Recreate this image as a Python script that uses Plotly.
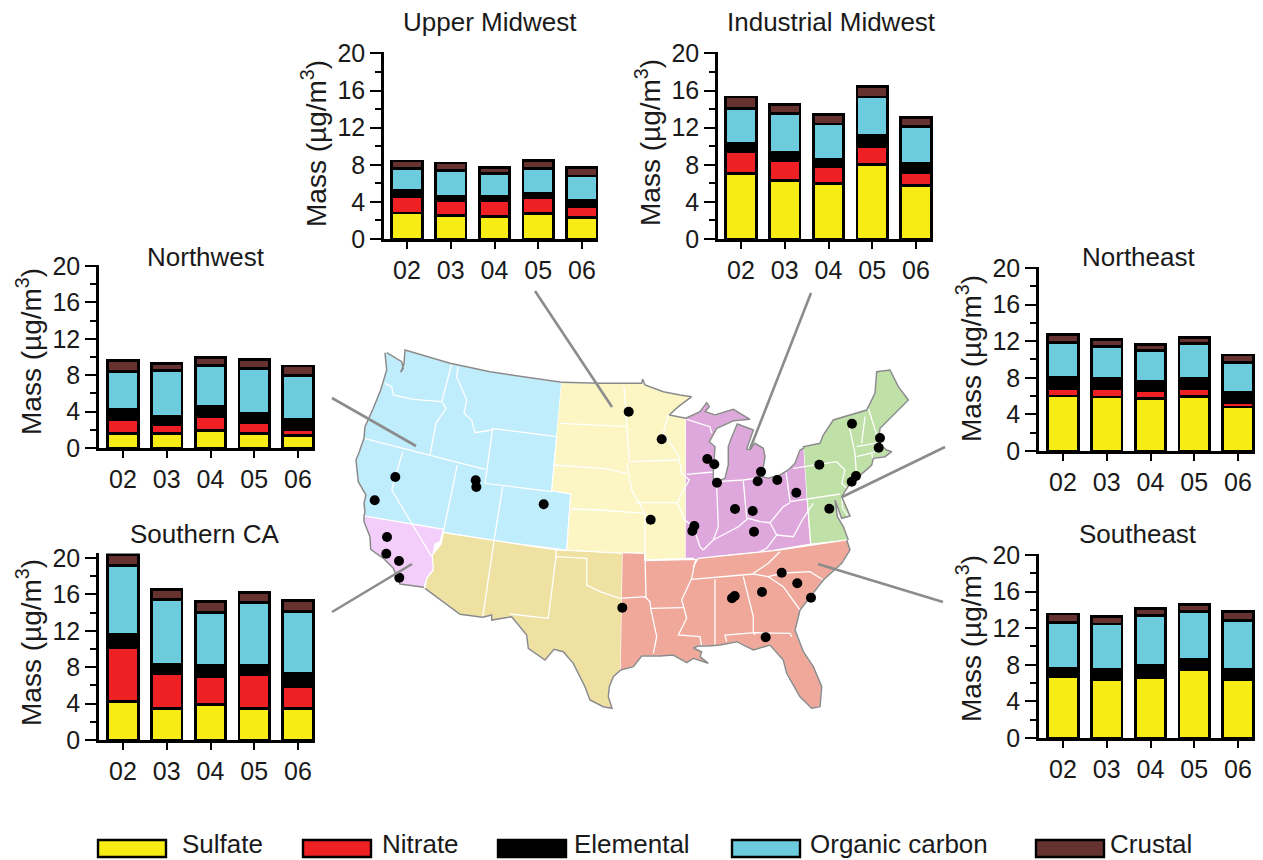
import plotly.graph_objects as go

W, H = 1263, 860
YEARS = ["02", "03", "04", "05", "06"]
COMPONENTS = ["Sulfate", "Nitrate", "Elemental", "Organic carbon", "Crustal"]
COLORS = ["#F7EC13", "#EE2024", "#000000", "#6CCCDE", "#65322F"]

UPPER_MIDWEST = [
    [2.8, 2.55, 2.4, 2.75, 2.3],
    [1.8, 1.55, 1.7, 1.7, 1.2],
    [0.65, 0.45, 0.45, 0.5, 0.65],
    [2.35, 2.85, 2.5, 2.65, 2.65],
    [0.8, 0.8, 0.65, 0.9, 0.95],
]
INDUSTRIAL_MIDWEST = [
    [7.05, 6.3, 6.0, 8.05, 5.8],
    [2.35, 2.2, 1.8, 1.95, 1.4],
    [0.9, 0.8, 0.75, 1.2, 0.9],
    [3.75, 4.2, 3.85, 4.1, 4.0],
    [1.25, 1.0, 1.0, 1.1, 1.0],
]
NORTHWEST = [
    [1.6, 1.6, 1.95, 1.6, 1.4],
    [1.55, 0.95, 1.45, 1.2, 0.6],
    [1.1, 0.9, 1.15, 1.05, 1.1],
    [4.15, 5.1, 4.5, 4.9, 4.9],
    [1.25, 0.75, 0.9, 1.0, 1.0],
]
SOUTHERN_CA = [
    [4.2, 3.45, 3.9, 3.5, 3.45],
    [5.9, 3.8, 3.05, 3.65, 2.45],
    [1.45, 1.1, 1.2, 1.05, 1.4],
    [7.6, 7.05, 5.85, 6.9, 6.85],
    [1.25, 1.1, 1.2, 1.15, 1.15],
]
NORTHEAST = [
    [6.0, 5.9, 5.7, 5.95, 4.8],
    [0.85, 0.95, 0.95, 0.9, 0.5],
    [1.15, 1.05, 1.0, 1.05, 1.05],
    [3.85, 3.5, 3.3, 3.85, 3.35],
    [0.85, 0.75, 0.65, 0.65, 0.8],
]
SOUTHEAST = [
    [6.75, 6.35, 6.65, 7.45, 6.4],
    [0.05, 0.05, 0.05, 0.05, 0.05],
    [0.85, 1.15, 1.25, 1.1, 1.05],
    [5.0, 4.9, 5.45, 5.2, 5.3],
    [0.9, 0.85, 0.75, 0.8, 1.0],
]

# Map outlines, in map units
MAP_NORTHWEST = [(386.7,352.7),(395,357.3),(401.7,361.7),(403.3,368.3),(400.7,372.3),(404,364),(405,350),(450,363.3),(490,371.7),(526.7,377.3),(561.7,382.3),(556.7,436),(551.7,490.7),(570.7,494),(566.7,550),(494,540.7),(443.3,532.3),(443.3,529.3),(364,516),(365,511.7),(364,503.3),(366,495),(358.3,481.7),(356,460),(359.3,451.7),(364,438.3),(365,426.7),(373.3,408.3),(380.7,390),(383.3,381.7),(386.7,370),(385,352.7)]
MAP_SOUTHERN_CA = [(364,516),(443.3,529.3),(440,541.7),(435,544),(432.7,556.7),(434.3,568.3),(427.3,577.3),(424,587.3),(400,584),(393.3,568.3),(383.3,558.3),(370.7,549.3),(370,536.7),(364,521.7)]
MAP_SOUTHWEST = [(444,532.7),(495,540.7),(556,550),(622.7,552.7),(620.7,670),(613.3,676.7),(609.3,686.7),(608.3,696.7),(612,708.3),(603.3,706.7),(590,700),(585,686.7),(573.3,663.3),(563.3,651.7),(554,649.3),(545,660),(528.3,648.3),(526.7,635),(511.7,616.7),(491.7,620),(491.7,615),(482.7,617.3),(460,614.3),(425,588.3),(426.7,578.3),(433.3,570),(432.3,555),(441.7,543.3)]
MAP_UPPER_MIDWEST = [(561.7,382.3),(600,383.3),(641.7,383.3),(642.7,379.3),(645,385),(663.3,391.7),(680,395),(691.7,396.7),(678.3,406.7),(669.3,415),(686,418.3),(685.7,558.3),(645,560),(645,554),(622.7,553.3),(600,551.7),(566.7,550),(570.7,494),(551.7,490.7),(556.7,436)]
MAP_INDUSTRIAL = [(686,418.3),(700,411.7),(706.7,402.7),(709.3,406.7),(705,411.7),(715,415),(733.3,409.3),(750,419.3),(733.3,420.7),(716.7,428.3),(709.3,441.7),(715,446.7),(713.3,470),(713.3,478.3),(717.3,481.7),(725,478.3),(728.3,465),(728.3,446.7),(731.7,437.3),(737.3,424),(753.3,430),(746.7,449),(750,450),(755,443.3),(763.3,448.3),(765,456.7),(763.3,466.7),(759.3,476),(768.3,478.3),(780,475),(788.3,470),(795,463.3),(800,450),(804,448.3),(807.3,500),(810.7,544),(766.7,551.7),(715,556.7),(700,559.3),(696.7,566),(693.3,558.3),(685.7,558.3)]
MAP_NORTHEAST = [(804,448.3),(803.3,446.7),(820,443.3),(823.3,435),(833.3,420),(866.7,410),(875,393.3),(876.7,371.7),(890,370),(898.3,386.7),(908.3,400),(893.3,415),(880,428.3),(878.3,443.3),(886.7,450),(891.7,451.7),(885,456.7),(873.3,458.3),(871.7,465),(856.7,478.3),(850,483.3),(841.7,496.7),(850,516),(841.7,518.3),(837.3,506.7),(835,500),(837.3,516.7),(843.3,526.7),(848.3,540),(810.7,544),(807.3,500)]
MAP_SOUTHEAST = [(622.7,552.7),(645,553.3),(645,560.7),(696.7,559.3),(693.3,566.7),(698.3,558.3),(780,550),(846.7,540),(850,550),(841.7,563.3),(823.3,580),(800,610),(795,630),(803.3,651.7),(813.3,666.7),(821.7,686.7),(820,706.7),(811.7,708.3),(800,696.7),(786.7,673.3),(783.3,660),(770,645),(753.3,650),(736.7,641.7),(720,645),(708.3,646),(698,646),(693.3,648),(701.7,652),(700,656.7),(708.3,663.3),(693.3,658.3),(686.7,662.7),(673.3,655),(660,656),(641.7,656),(633.3,666.7),(620.7,670)]

STATE_LINES = [
    [(385,383.3),(391.7,386.7),(393.3,395),(413.3,399.3),(441.7,401.7)],
    [(451.7,364),(441.7,401.7),(446,408.3),(436,423.3),(430,455)],
    [(458.3,366.7),(456.7,376.7),(466.7,400),(464,413.3),(471.7,420),(475,432.7),(491.7,430)],
    [(364,438.3),(430,455),(485,469.3)],
    [(491.7,428.3),(556.7,436.7)],
    [(492.7,428.3),(485,483.3),(551.7,491.7)],
    [(457.3,465),(443.3,532.3)],
    [(402.7,451.7),(391.7,490),(431.7,556.7)],
    [(502.7,486.7),(494,540.7),(482.7,617.3)],
    [(556,550),(556,556.7),(548.3,618.3),(510,614)],
    [(556,556.7),(586.7,558.3),(586.7,585),(600,591.7),(620,598.3),(645,596.7),(650,601.7),(650.7,608.3),(656.7,636.7),(653.3,653.3)],
    [(645,553.3),(646,598.3)],
    [(650.7,608.3),(683.3,607.7)],
    [(695,561.7),(691.7,578.3),(681.7,600),(686.7,618.3),(678.3,635),(700,636.7),(701.7,646.7)],
    [(691.7,579.3),(753.3,574),(768.3,576.7),(783.3,573),(810,571.7),(823.3,580)],
    [(715,579.3),(715,645)],
    [(743.3,576.7),(753.3,616.7),(753.3,631.7),(755,635)],
    [(726.7,641.7),(725,635),(755,632.7),(790,633.3),(791.7,636.7)],
    [(768.3,576.7),(783.3,586.7),(800,610)],
    [(780,551.7),(768.3,563.3),(753.3,573.3)],
    [(624,386),(627.3,426.7),(629.3,460)],
    [(560,423.3),(600,425.7),(626.7,426.7)],
    [(628.3,461.7),(678.3,460)],
    [(553.3,465),(603.3,468.3),(626.7,473.3)],
    [(626.7,463.3),(631.7,490),(645,513.3),(645,560)],
    [(635,502.7),(678.3,502.7)],
    [(570.7,509),(600,510),(645,513.3)],
    [(668.3,415),(663.3,433.3),(678.3,455),(681.7,473.3),(689.3,480),(681.7,493.3),(677.3,503.3),(685,520),(693.3,526.7),(700,546.7),(703.3,550)],
    [(686.7,419.3),(710,426.7),(711.7,433.3)],
    [(686.7,474.3),(713.3,472)],
    [(716.7,486.7),(718.3,526.7),(713.3,540),(703.3,550)],
    [(716.7,481.7),(743.3,480),(773,476)],
    [(743.3,480.7),(746.7,518.3)],
    [(786,471.7),(790,501.7)],
    [(713.3,540),(723.3,535),(738.3,526.7),(748.3,518.3),(760,521.7),(770,522.7),(783.3,506.7),(790,502.7)],
    [(770,522.7),(776.7,535),(766.7,548.3),(760,551.7)],
    [(776.7,535),(793.3,536.7),(803.3,518.3),(813.3,503.3)],
    [(790,501.7),(840,494)],
    [(793.3,468.3),(836.7,461.7),(841.7,466.7),(845,470)],
    [(848.3,421.7),(855,453.3),(856.7,478.3)],
    [(865,416.7),(861.7,443.3)],
    [(868.3,408.3),(878.3,440)],
    [(856.7,446.7),(878.3,442.7)],
    [(856.7,456.7),(876.7,451.7)],
    [(871.7,453.3),(873.3,461.7)],
    [(845,470),(841.7,483.3),(850,491.7)],
    [(841.7,496.7),(842.7,508.3),(848.3,516.7)],
]

SITES_X = [628.7,395.3,374.7,475.7,476.3,543.7,387,386.3,399,399.3,661.7,707.3,714.3,717,761,757.7,777.3,796.3,735,752.7,754,694.3,692.3,650.7,852,880,878.7,819.3,856,851.7,829.3,781.7,797.3,811,762,734.7,732,622.3,765.7]
SITES_Y = [411.7,477,500.3,480.3,487,504.3,537,553.7,561,577.7,439.3,459,464.3,482.7,471.7,481.3,480,492.7,509,511,531.7,526,531,519.7,423.7,438,447.7,464.7,476,481.7,508.7,572.7,583.3,597.7,592,596,598.3,607.7,637.3]

LEADERS = [
    [(535,291),(612,407)],
    [(811,293),(750,449)],
    [(332,398),(416,446)],
    [(332,612),(412,564)],
    [(945,447),(842,497)],
    [(943,602),(818,564)],
]

# name, data, spine px, right px, first bar px, last bar px, y0 px, y20 px, title centre, title y, y-title x, y-title y, axis top value
PANELS = [
    ("Upper Midwest", UPPER_MIDWEST, 384, 598, 407, 582, 239, 53.5, 490, 22, 314, 144, 20.15),
    ("Industrial Midwest", INDUSTRIAL_MIDWEST, 718, 933, 741, 916, 239, 53.5, 831, 22, 648, 143, 20.15),
    ("Northwest", NORTHWEST, 99, 315, 123, 298, 448, 266, 206, 257, 29, 352, 20.15),
    ("Southern CA", SOUTHERN_CA, 99, 315, 123, 298, 740, 558, 205, 534, 29, 643, 20.5),
    ("Northeast", NORTHEAST, 1039, 1255, 1063, 1238, 451, 268, 1138, 257, 969, 359, 20.15),
    ("Southeast", SOUTHEAST, 1039, 1255, 1063, 1238, 738, 555, 1138, 534, 969, 639, 20.15),
]
LEGEND_SWATCH_LEFT = [98, 303, 498, 732, 1036]
LEGEND_TEXT_LEFT = [180, 380, 572, 808, 1108]

FONT = "Liberation Sans, Arial, sans-serif"
TEXT = "#1a1a1a"
fig = go.Figure()

def xy(points):
    xs, ys = [], []
    for p in points:
        xs.append(p[0]); ys.append(p[1])
    return xs, ys

regions = [
    (MAP_NORTHWEST, "#BFEDFB"), (MAP_SOUTHERN_CA, "#F3CEFA"), (MAP_SOUTHWEST, "#EFE1A2"),
    (MAP_UPPER_MIDWEST, "#FBF6C3"), (MAP_INDUSTRIAL, "#DFA8DD"), (MAP_NORTHEAST, "#BFE0A6"),
    (MAP_SOUTHEAST, "#EFA89A"),
]
for pts, col in regions:
    xs, ys = xy(pts)
    fig.add_trace(go.Scatter(x=xs, y=ys, mode="lines", fill="toself", fillcolor=col,
                             line=dict(color="white", width=1.2), hoverinfo="skip", showlegend=False))

bx, by = [], []
for seg in STATE_LINES:
    xs, ys = xy(seg)
    bx += xs + [None]; by += ys + [None]
fig.add_trace(go.Scatter(x=bx, y=by, mode="lines", line=dict(color="white", width=1.3),
                         hoverinfo="skip", showlegend=False))

coast = [
    MAP_NORTHWEST[18:] , MAP_NORTHWEST[:11], MAP_UPPER_MIDWEST[:11], MAP_INDUSTRIAL[:34],
    MAP_NORTHEAST[:29], MAP_SOUTHEAST[7:], MAP_SOUTHWEST[4:24], MAP_SOUTHERN_CA[7:] + MAP_SOUTHERN_CA[:1],
]
cx, cy = [], []
for seg in coast:
    xs, ys = xy(seg)
    cx += xs + [None]; cy += ys + [None]
fig.add_trace(go.Scatter(x=cx, y=cy, mode="lines", line=dict(color="#8A8A8A", width=1.5),
                         hoverinfo="skip", showlegend=False))

fig.add_trace(go.Scatter(x=SITES_X, y=SITES_Y, mode="markers",
                         marker=dict(color="black", size=10), hoverinfo="skip", showlegend=False))

for seg in LEADERS:
    xs, ys = xy(seg)
    fig.add_trace(go.Scatter(x=xs, y=ys, mode="lines", line=dict(color="#8C8C8C", width=2.6),
                             hoverinfo="skip", showlegend=False))

layout = dict(
    width=W, height=H, margin=dict(l=0, r=0, t=0, b=0, autoexpand=False), autosize=False,
    paper_bgcolor="white", plot_bgcolor="rgba(0,0,0,0)", barmode="stack", showlegend=False,
    font=dict(family=FONT, color=TEXT),
    xaxis=dict(domain=[0, 1], range=[0, W], visible=False, fixedrange=True),
    yaxis=dict(domain=[0, 1], range=[H, 0], visible=False, fixedrange=True),
)
annotations, shapes = [], []

for i, (name, data, spine, right, c0, c4, y0, y20, tx, ty, ytx, yty, ymax) in enumerate(PANELS):
    n = i + 2
    xa, ya = f"x{n}", f"y{n}"
    step = (c4 - c0) / 4
    ytop = y0 - (y0 - y20) * ymax / 20
    for comp, vals, col in zip(COMPONENTS, data, COLORS):
        fig.add_trace(go.Bar(x=YEARS, y=vals, name=comp, xaxis=xa, yaxis=ya, width=0.7, cliponaxis=False,
                             marker=dict(color=col, line=dict(color="black", width=2.8)),
                             showlegend=False))
    layout[f"xaxis{n}"] = dict(
        domain=[spine / W, right / W], anchor=ya, type="category", categoryorder="array",
        categoryarray=YEARS, range=[(spine - c0) / step, (right - c0) / step], showgrid=False,
        zeroline=False, showline=True, linecolor="black", linewidth=2.5, ticks="outside",
        ticklen=7, tickwidth=2, tickcolor="black", tickfont=dict(size=25, color=TEXT, family=FONT),
        automargin=False, fixedrange=True)
    layout[f"yaxis{n}"] = dict(
        domain=[1 - y0 / H, 1 - ytop / H], anchor=xa, range=[0, ymax], tick0=0, dtick=4, showgrid=False,
        zeroline=False, showline=True, linecolor="black", linewidth=2.5, ticks="outside",
        ticklen=11, tickwidth=2, tickcolor="black", tickfont=dict(size=25, color=TEXT, family=FONT),
        minor=dict(tick0=0, dtick=2, ticks="outside", ticklen=6, tickwidth=2, tickcolor="black"),
        automargin=False, fixedrange=True)
    annotations.append(dict(text=name, x=tx / W, y=1 - ty / H, xref="paper", yref="paper",
                            showarrow=False, xanchor="center", yanchor="middle",
                            font=dict(size=26, color=TEXT, family=FONT)))
    annotations.append(dict(text="Mass (µg/m<sup>3</sup>)", x=ytx / W, y=1 - yty / H, xref="paper", yref="paper",
                            showarrow=False, xanchor="center", yanchor="middle", textangle=-90,
                            font=dict(size=28, color=TEXT, family=FONT)))

for comp, col, sx, tx in zip(COMPONENTS, COLORS, LEGEND_SWATCH_LEFT, LEGEND_TEXT_LEFT):
    shapes.append(dict(type="rect", xref="paper", yref="paper", x0=sx / W, x1=(sx + 68) / W,
                       y0=1 - 857 / H, y1=1 - 840 / H, fillcolor=col, line=dict(color="black", width=2.4)))
    annotations.append(dict(text=comp, x=tx / W, y=1 - 844 / H, xref="paper", yref="paper",
                            showarrow=False, xanchor="left", yanchor="middle",
                            font=dict(size=26, color=TEXT, family=FONT)))

layout["annotations"] = annotations
layout["shapes"] = shapes
fig.update_layout(**layout)
fig.write_html("out.html", config={"displayModeBar": False},
               post_script="document.body.style.margin='0';document.body.style.overflow='hidden';")
